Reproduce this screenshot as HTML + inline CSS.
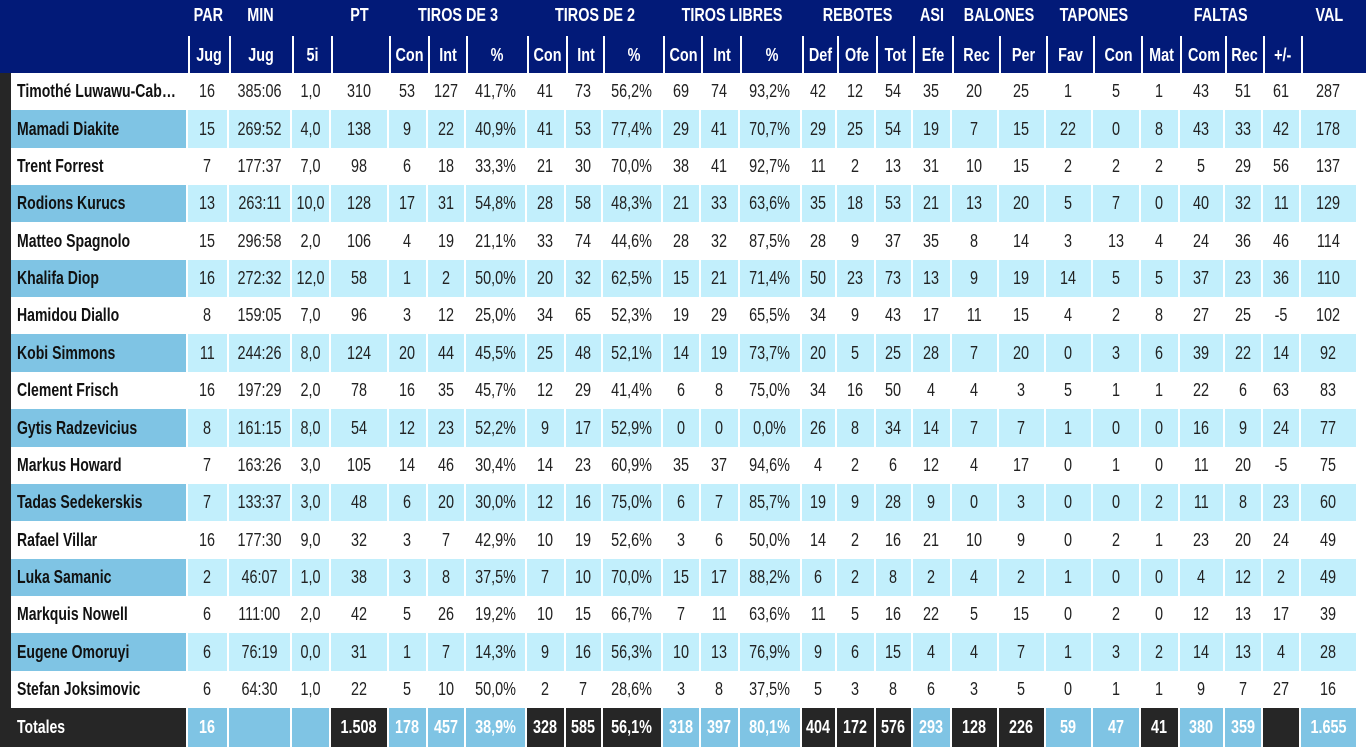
<!DOCTYPE html>
<html><head><meta charset="utf-8"><style>
*{margin:0;padding:0;box-sizing:border-box}
body{width:1366px;height:754px;background:#fff;position:relative;overflow:hidden;font-family:"Liberation Sans",sans-serif}
span{display:inline-block;transform:scaleX(.8);white-space:nowrap}
.hd{position:absolute;left:0;top:0;width:1366px;height:73px;background:#021a78}
.g{position:absolute;top:5px;height:24px;color:#fff;font-weight:bold;font-size:18px;text-align:center;white-space:nowrap}
.h2{position:absolute;top:36px;height:37px;border-left:2px solid #fff;color:#fff;font-weight:bold;font-size:18px;text-align:center;line-height:38px}
.r{position:absolute;left:0;height:38px;display:flex}
.r div{flex:none;height:100%;border-right:2px solid #fff;display:flex;align-items:center;justify-content:center;font-size:18px;color:#222;white-space:nowrap;overflow:hidden}
.r div.bar{background:#262626;border:none}
.r div.nm{justify-content:flex-start;padding-left:6px;font-weight:bold;color:#111}
.r div.nm span{transform-origin:left center;transform:scaleX(.78)}
.o div{background:#c2effc}.o div.nm{background:#7fc4e4}
.t div,.t div.nm{color:#fff;font-weight:bold;background:#7fc4e4}
.t div.k{background:#262626}
</style></head><body>
<div class="hd"></div>
<div id="c"></div>
<script>
const W=[11,177,41,63,39,58,39,38,61,39,37,60,38,39,62,35,39,37,39,47,47,47,48,39,45,38,38,57];
const L=[];let x=0;for(const w of W){L.push(x);x+=w;}
let h='';
const groups=[["PAR",2,2],["MIN",3,3],["PT",5,5],["TIROS DE 3",6,8],["TIROS DE 2",9,11],["TIROS LIBRES",12,14],["REBOTES",15,17],["ASI",18,18],["BALONES",19,20],["TAPONES",21,22],["FALTAS",23,26],["VAL",27,27]];
for(const [t,a,b] of groups){const l=L[a],r=L[b]+W[b];h+=`<div class="g" style="left:${l}px;width:${r-l}px"><span>${t}</span></div>`;}
const sub=["Jug","Jug","5i","","Con","Int","%","Con","Int","%","Con","Int","%","Def","Ofe","Tot","Efe","Rec","Per","Fav","Con","Mat","Com","Rec","+/-",""];
sub.forEach((s,i)=>{const c=i+2;h+=`<div class="h2" style="left:${L[c]}px;width:${W[c]}px"><span>${s}</span></div>`;});
const rows=`Timothé Luwawu-Cab…|16|385:06|1,0|310|53|127|41,7%|41|73|56,2%|69|74|93,2%|42|12|54|35|20|25|1|5|1|43|51|61|287
Mamadi Diakite|15|269:52|4,0|138|9|22|40,9%|41|53|77,4%|29|41|70,7%|29|25|54|19|7|15|22|0|8|43|33|42|178
Trent Forrest|7|177:37|7,0|98|6|18|33,3%|21|30|70,0%|38|41|92,7%|11|2|13|31|10|15|2|2|2|5|29|56|137
Rodions Kurucs|13|263:11|10,0|128|17|31|54,8%|28|58|48,3%|21|33|63,6%|35|18|53|21|13|20|5|7|0|40|32|11|129
Matteo Spagnolo|15|296:58|2,0|106|4|19|21,1%|33|74|44,6%|28|32|87,5%|28|9|37|35|8|14|3|13|4|24|36|46|114
Khalifa Diop|16|272:32|12,0|58|1|2|50,0%|20|32|62,5%|15|21|71,4%|50|23|73|13|9|19|14|5|5|37|23|36|110
Hamidou Diallo|8|159:05|7,0|96|3|12|25,0%|34|65|52,3%|19|29|65,5%|34|9|43|17|11|15|4|2|8|27|25|-5|102
Kobi Simmons|11|244:26|8,0|124|20|44|45,5%|25|48|52,1%|14|19|73,7%|20|5|25|28|7|20|0|3|6|39|22|14|92
Clement Frisch|16|197:29|2,0|78|16|35|45,7%|12|29|41,4%|6|8|75,0%|34|16|50|4|4|3|5|1|1|22|6|63|83
Gytis Radzevicius|8|161:15|8,0|54|12|23|52,2%|9|17|52,9%|0|0|0,0%|26|8|34|14|7|7|1|0|0|16|9|24|77
Markus Howard|7|163:26|3,0|105|14|46|30,4%|14|23|60,9%|35|37|94,6%|4|2|6|12|4|17|0|1|0|11|20|-5|75
Tadas Sedekerskis|7|133:37|3,0|48|6|20|30,0%|12|16|75,0%|6|7|85,7%|19|9|28|9|0|3|0|0|2|11|8|23|60
Rafael Villar|16|177:30|9,0|32|3|7|42,9%|10|19|52,6%|3|6|50,0%|14|2|16|21|10|9|0|2|1|23|20|24|49
Luka Samanic|2|46:07|1,0|38|3|8|37,5%|7|10|70,0%|15|17|88,2%|6|2|8|2|4|2|1|0|0|4|12|2|49
Markquis Nowell|6|111:00|2,0|42|5|26|19,2%|10|15|66,7%|7|11|63,6%|11|5|16|22|5|15|0|2|0|12|13|17|39
Eugene Omoruyi|6|76:19|0,0|31|1|7|14,3%|9|16|56,3%|10|13|76,9%|9|6|15|4|4|7|1|3|2|14|13|4|28
Stefan Joksimovic|6|64:30|1,0|22|5|10|50,0%|2|7|28,6%|3|8|37,5%|5|3|8|6|3|5|0|1|1|9|7|27|16`.split('\n');
h+=`<div style="position:absolute;left:0;top:73px;width:11px;height:674px;background:#262626"></div>`;
rows.forEach((r,i)=>{const v=r.split('|');const top=Math.round(73+i*37.35);const nt=Math.round(73+(i+1)*37.35);
h+=`<div class="r${i%2?' o':''}" style="top:${top}px;height:${nt-top}px"><div class="bar" style="width:11px"></div>`;
v.forEach((s,j)=>{h+=`<div class="${j==0?'nm':''}" style="width:${W[j+1]}px"><span>${s}</span></div>`;});h+='</div>';});
const tv=["Totales","16","","","1.508","178","457","38,9%","328","585","56,1%","318","397","80,1%","404","172","576","293","128","226","59","47","41","380","359","","1.655"];
const dk=[0,4,8,9,10,14,15,16,18,19,22,25];
h+=`<div class="r t" style="top:708px;height:39px"><div class="bar" style="width:11px"></div>`;
tv.forEach((s,j)=>{h+=`<div class="${j==0?'nm k':(dk.includes(j)?'k':'')}" style="width:${W[j+1]}px"><span>${s}</span></div>`;});h+='</div>';
document.getElementById('c').innerHTML=h;
</script>
</body></html>
